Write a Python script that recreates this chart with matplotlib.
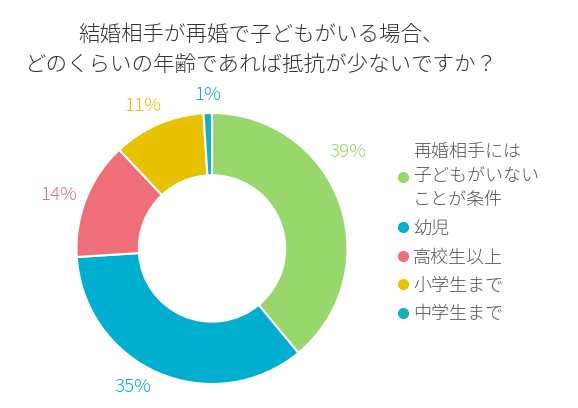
import numpy as np
import matplotlib.pyplot as plt
from matplotlib.lines import Line2D

plt.rcParams['font.family'] = ['Noto Sans CJK JP', 'DejaVu Sans']

# data
labels = ['再婚相手には\n子どもがいない\nことが条件', '幼児', '高校生以上', '小学生まで', '中学生まで']
values = [39, 35, 14, 11, 1]
colors = ['#97d76b', '#00aecf', '#ee6f7a', '#e8c100', '#17b1b3']
title = '結婚相手が再婚で子どもがいる場合、\nどのくらいの年齢であれば抵抗が少ないですか？'

fig = plt.figure(figsize=(5.78, 4.08), dpi=100)

# pie axes: centre at (212, 248.5) px, radius ~135.5 px
W, H = 578, 408
R = 135.5
lim = 1.35
cx, cy = 212, 248.5
size = 2 * lim * R
ax = fig.add_axes([(cx - size / 2) / W, (H - cy - size / 2) / H, size / W, size / H])

wedges, texts, autotexts = ax.pie(
    values, colors=colors, startangle=90, counterclock=False,
    radius=1.0, wedgeprops=dict(width=0.46, edgecolor='white', linewidth=1.5),
    autopct='%d%%', pctdistance=1.19,
)
# label nudges (angle offset in degrees, distance from centre)
nudge = [(15.6, 1.23), (-6.3, 1.18), (2.4, 1.20), (2.4, 1.17), (-0.3, 1.13)]
for w, t, (da, dist) in zip(wedges, autotexts, nudge):
    t.set_color(w.get_facecolor())
    t.set_fontsize(13.5)
    t.set_fontweight('light')
    ang = np.deg2rad((w.theta1 + w.theta2) / 2 + da)
    t.set_position((dist * np.cos(ang), dist * np.sin(ang)))
ax.set_xlim(-lim, lim)
ax.set_ylim(-lim, lim)
ax.set_aspect('equal')
ax.axis('off')

fig.text(0.452, 0.877, title, ha='center', va='center', fontsize=15.5,
         color='#333333', linespacing=1.55, fontweight='light')

# circle markers for legend entries
handles = [Line2D([], [], marker='o', linestyle='', markersize=7,
                  markerfacecolor=c, markeredgecolor=c) for c in colors]
leg = fig.legend(handles, labels, loc='upper left', bbox_to_anchor=(0.66, 0.69),
                 frameon=False, fontsize=13, handlelength=0.6,
                 handletextpad=0.25, labelspacing=0.58, labelcolor='#555555')
for t in leg.get_texts():
    t.set_linespacing(1.45)
    t.set_fontweight('light')

fig.savefig('out.png', dpi=100)
